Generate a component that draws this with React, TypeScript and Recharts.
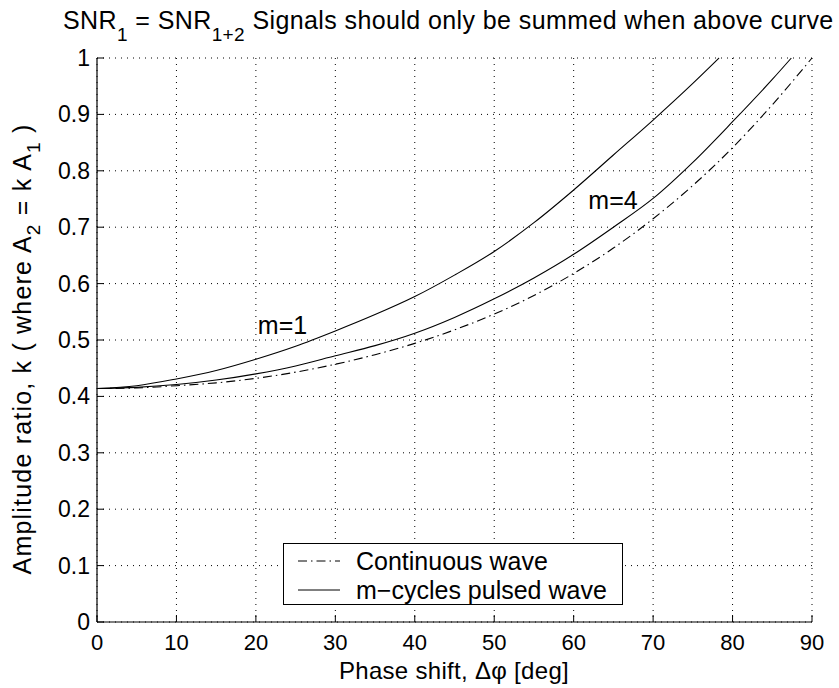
import React from 'react';
import { LineChart, Line, XAxis, YAxis, CartesianGrid, Legend, ReferenceDot, Customized } from 'recharts';

const phaseTicks = [0, 10, 20, 30, 40, 50, 60, 70, 80, 90];
const ampTicks = [0, 0.1, 0.2, 0.3, 0.4, 0.5, 0.6, 0.7, 0.8, 0.9, 1];

const cwPhase = [0, 5, 10, 15, 20, 25, 30, 35, 40, 45, 50, 55, 60, 65, 70, 75, 80, 85, 90];
const cwAmp = [0.414, 0.415, 0.419, 0.424, 0.432, 0.443, 0.457, 0.474, 0.494, 0.518, 0.546, 0.579, 0.618, 0.663, 0.715, 0.774, 0.841, 0.917, 1.0];

const m1Phase = [0, 5, 10, 15, 20, 25, 30, 35, 40, 45, 50, 55, 60, 65, 70, 75, 78.3];
const m1Amp = [0.414, 0.419, 0.431, 0.446, 0.466, 0.489, 0.516, 0.545, 0.577, 0.615, 0.657, 0.708, 0.766, 0.828, 0.89, 0.955, 1.0];

const m4Phase = [0, 5, 10, 15, 20, 25, 30, 35, 40, 45, 50, 55, 60, 65, 70, 75, 80, 85, 87.4];
const m4Amp = [0.414, 0.416, 0.421, 0.429, 0.44, 0.454, 0.472, 0.49, 0.512, 0.54, 0.573, 0.61, 0.652, 0.7, 0.751, 0.815, 0.887, 0.962, 1.0];

const legendLabels = ['Continuous wave', 'm\u2212cycles pulsed wave'];

const FONT = '"Liberation Sans", Arial, Helvetica, sans-serif';

type Row = { phi: number; cw?: number; m1?: number; m4?: number };
const rowMap = new Map<number, Row>();
const put = (ph: number[], vals: number[], key: 'cw' | 'm1' | 'm4') => {
  ph.forEach((p, i) => {
    const r = rowMap.get(p) || { phi: p };
    r[key] = vals[i];
    rowMap.set(p, r);
  });
};
put(cwPhase, cwAmp, 'cw');
put(m1Phase, m1Amp, 'm1');
put(m4Phase, m4Amp, 'm4');
const data: Row[] = Array.from(rowMap.values()).sort((a, b) => a.phi - b.phi);

const TICK_LEN = 7;

const BottomTick = (props: any) => {
  const { x, y, payload } = props;
  return (
    <g>
      <line x1={x} x2={x} y1={y} y2={y - TICK_LEN} stroke="#000" strokeWidth={1} />
      <text x={x} y={y + 28} textAnchor="middle" fontSize={22} fontFamily={FONT} fill="#000">
        {payload.value}
      </text>
    </g>
  );
};

const TopTick = (props: any) => {
  const { x, y } = props;
  return <line x1={x} x2={x} y1={y} y2={y + TICK_LEN} stroke="#000" strokeWidth={1} />;
};

const LeftTick = (props: any) => {
  const { x, y, payload } = props;
  const v = Math.round(payload.value * 10) / 10;
  return (
    <g>
      <line x1={x} x2={x + TICK_LEN} y1={y} y2={y} stroke="#000" strokeWidth={1} />
      <text x={x - 7} y={y + 8} textAnchor="end" fontSize={23} fontFamily={FONT} fill="#000">
        {String(v)}
      </text>
    </g>
  );
};

const RightTick = (props: any) => {
  const { x, y } = props;
  return <line x1={x} x2={x - TICK_LEN} y1={y} y2={y} stroke="#000" strokeWidth={1} />;
};

const Texts = () => (
  <g fontFamily={FONT} fill="#000">
    <text x={63} y={29} fontSize={25} letterSpacing={0.4}>
      SNR<tspan fontSize={19} dy={12}>1</tspan>
      <tspan dy={-12}> = SNR</tspan>
      <tspan fontSize={19} dy={12}>1+2</tspan>
      <tspan dy={-12}> Signals should only be summed when above curve</tspan>
    </text>
    <text x={454} y={679} fontSize={24} letterSpacing={0.3} textAnchor="middle">
      Phase shift, {'\u0394\u03C6'} [deg]
    </text>
    <text transform="translate(31,349) rotate(-90)" x={0} y={0} fontSize={25} letterSpacing={1.2} textAnchor="middle">
      Amplitude ratio, k ( where A<tspan fontSize={19} dy={9}>2</tspan>
      <tspan dy={-9}> = k A</tspan>
      <tspan fontSize={19} dy={9}>1</tspan>
      <tspan dy={-9}> )</tspan>
    </text>
  </g>
);

const LegendBox = () => (
  <div
    style={{
      width: 340,
      height: 62,
      boxSizing: 'border-box',
      border: '1px solid #000',
      background: '#fff',
      fontFamily: FONT,
      fontSize: 25,
      position: 'relative',
    }}
  >
    {legendLabels.map((lab, i) => (
      <div key={lab} style={{ position: 'absolute', left: 0, top: i === 0 ? 3 : 32, height: 28, width: 338 }}>
        <svg width={60} height={28} style={{ position: 'absolute', left: 12, top: 0 }}>
          <line
            x1={2}
            x2={44}
            y1={14}
            y2={14}
            stroke="#000"
            strokeWidth={1}
            strokeDasharray={i === 0 ? '9 4 1.5 4' : undefined}
          />
        </svg>
        <span style={{ position: 'absolute', left: 72, top: 0, lineHeight: '28px', whiteSpace: 'nowrap' }}>{lab}</span>
      </div>
    ))}
  </div>
);

export default function App() {
  return (
    <div style={{ position: 'absolute', left: 0, top: 0 }}>
      <LineChart width={839} height={688} data={data} margin={{ top: 58, right: 27, bottom: 0, left: 37 }}>
        <CartesianGrid stroke="#000" strokeDasharray="1 5" strokeWidth={1} />
        <XAxis
          dataKey="phi"
          type="number"
          domain={[0, 90]}
          ticks={phaseTicks}
          height={66}
          tickSize={0}
          tickMargin={0}
          tickLine={false}
          axisLine={{ stroke: '#000', strokeWidth: 1.2 }}
          tick={<BottomTick />}
          interval={0}
        />
        <XAxis
          xAxisId="top"
          orientation="top"
          dataKey="phi"
          type="number"
          domain={[0, 90]}
          ticks={phaseTicks}
          height={0}
          tickSize={0}
          tickMargin={0}
          tickLine={false}
          axisLine={{ stroke: '#000', strokeWidth: 1.2 }}
          tick={<TopTick />}
          interval={0}
        />
        <YAxis
          type="number"
          domain={[0, 1]}
          ticks={ampTicks}
          width={60}
          tickSize={0}
          tickMargin={0}
          tickLine={false}
          axisLine={{ stroke: '#000', strokeWidth: 1.2 }}
          tick={<LeftTick />}
          interval={0}
        />
        <YAxis
          yAxisId="right"
          orientation="right"
          type="number"
          domain={[0, 1]}
          ticks={ampTicks}
          width={0}
          tickSize={0}
          tickMargin={0}
          tickLine={false}
          axisLine={{ stroke: '#000', strokeWidth: 1.2 }}
          tick={<RightTick />}
          interval={0}
        />
        <Line dataKey="cw" type="monotone" stroke="#000" strokeWidth={1.1} strokeDasharray="9 4 1.5 4" dot={false} connectNulls isAnimationActive={false} />
        <Line dataKey="m1" type="monotone" stroke="#000" strokeWidth={1.1} dot={false} connectNulls isAnimationActive={false} />
        <Line dataKey="m4" type="monotone" stroke="#000" strokeWidth={1.1} dot={false} connectNulls isAnimationActive={false} />
        <ReferenceDot x={23.35} y={0.5266} r={0} fill="none" stroke="none" label={{ value: 'm=1', position: 'center', fontSize: 25, fill: '#000', fontFamily: FONT }} />
        <ReferenceDot x={64.95} y={0.748} r={0} fill="none" stroke="none" label={{ value: 'm=4', position: 'center', fontSize: 25, fill: '#000', fontFamily: FONT }} />
        <Legend
          layout="vertical"
          align="center"
          verticalAlign="middle"
          wrapperStyle={{ position: 'absolute', left: 283, top: 543, width: 340, height: 62 }}
          content={() => <LegendBox />}
        />
        <Customized component={Texts} />
      </LineChart>
    </div>
  );
}
